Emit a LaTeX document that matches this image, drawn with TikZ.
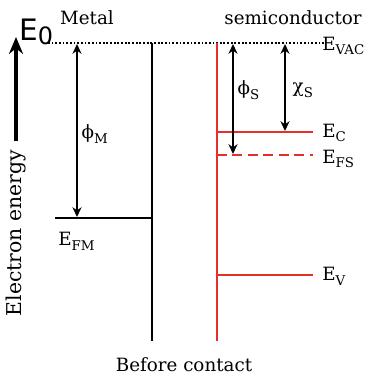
\documentclass[tikz,border=0pt]{standalone}
\usepackage{fontspec}
\setmainfont{DejaVu Serif}
\setsansfont{DejaVu Sans}
\usetikzlibrary{arrows.meta}
\definecolor{semired}{RGB}{228,48,38}
\newcommand{\lvsub}[1]{\raisebox{-0.5ex}{\fontsize{9.5}{9.5}\selectfont #1}}
\begin{document}
\begin{tikzpicture}[x=0.025cm,y=-0.025cm]%
\tikzset{band/.style={line width=1.4pt},
  gaparrow/.style={{Stealth[length=7pt,width=6.5pt]}-{Stealth[length=7pt,width=6.5pt]},line width=0.9pt},
  lvl/.style={inner sep=1pt,anchor=west,font=\fontsize{13}{15}\selectfont},
  ttl/.style={inner sep=0pt,font=\fontsize{13}{15}\selectfont}}
\useasboundingbox (0,0) rectangle (366,376);
% vacuum level
\coordinate (vacL) at (48,43);
\coordinate (vacR) at (324,43);
\draw[line width=1.7pt,dash pattern=on 1.3pt off 1.3pt] (vacL) -- (vacR);
\node[lvl,inner sep=0pt] (Evac) at (322,46) {E\lvsub{VAC}};
\node[inner sep=0pt,anchor=south west] (E0) at (19,45)
 {\sffamily\fontsize{21}{22}\selectfont E\raisebox{-0.25ex}{\fontsize{17}{17}\selectfont 0}};
% energy axis
\coordinate (axB) at (16,141);
\coordinate (axT) at (16,37);
\draw[line width=2.2pt,-{Stealth[length=12pt,width=10pt]}] (axB) -- (axT);
\node[ttl,rotate=90,font=\fontsize{14.5}{16}\selectfont] (axis) at (16,233) {Electron energy};
% metal
\node[ttl] (metal) at (87,18) {Metal};
\coordinate (mTop) at (152,43);
\coordinate (mBot) at (152,341);
\draw[band] (mTop) -- (mBot);
\coordinate (EFMl) at (55,218);
\coordinate (EFMr) at (152,218);
\draw[band] (EFMl) -- (EFMr);
\node[lvl,anchor=north west,inner sep=0pt] (EFM) at (58,232) {E\lvsub{FM}};
\coordinate (phiMt) at (77,44);
\coordinate (phiMb) at (77,217);
\draw[gaparrow] (phiMt) -- (phiMb);
\node[lvl] (phiM) at (80,134) {ϕ\lvsub{M}};
% semiconductor
\node[ttl] (semi) at (293,18) {semiconductor};
\coordinate (sTop) at (217,43);
\coordinate (sBot) at (217,341);
\draw[band,semired] (sTop) -- (sBot);
\coordinate (ECl) at (217,132);
\coordinate (ECr) at (313,132);
\draw[band,semired] (ECl) -- (ECr);
\node[lvl,inner sep=0pt] (EC) at (322,133) {E\lvsub{C}};
\coordinate (EFSl) at (217,155);
\coordinate (EFSr) at (313,155);
\draw[band,semired,dash pattern=on 7pt off 4pt] (EFSl) -- (EFSr);
\node[lvl,inner sep=0pt] (EFS) at (322,159) {E\lvsub{FS}};
\coordinate (EVl) at (217,275);
\coordinate (EVr) at (313,275);
\draw[band,semired] (EVl) -- (EVr);
\node[lvl,inner sep=0pt] (EV) at (322,276) {E\lvsub{V}};
\coordinate (phiSt) at (233,44);
\coordinate (phiSb) at (233,154);
\draw[gaparrow] (phiSt) -- (phiSb);
\node[lvl] (phiS) at (236,90) {ϕ\lvsub{S}};
\coordinate (chiSt) at (285,44);
\coordinate (chiSb) at (285,131);
\draw[gaparrow] (chiSt) -- (chiSb);
\node[lvl] (chiS) at (291,90) {χ\lvsub{S}};
\node[ttl] (before) at (184,365) {Before contact};
\end{tikzpicture}
\end{document}
